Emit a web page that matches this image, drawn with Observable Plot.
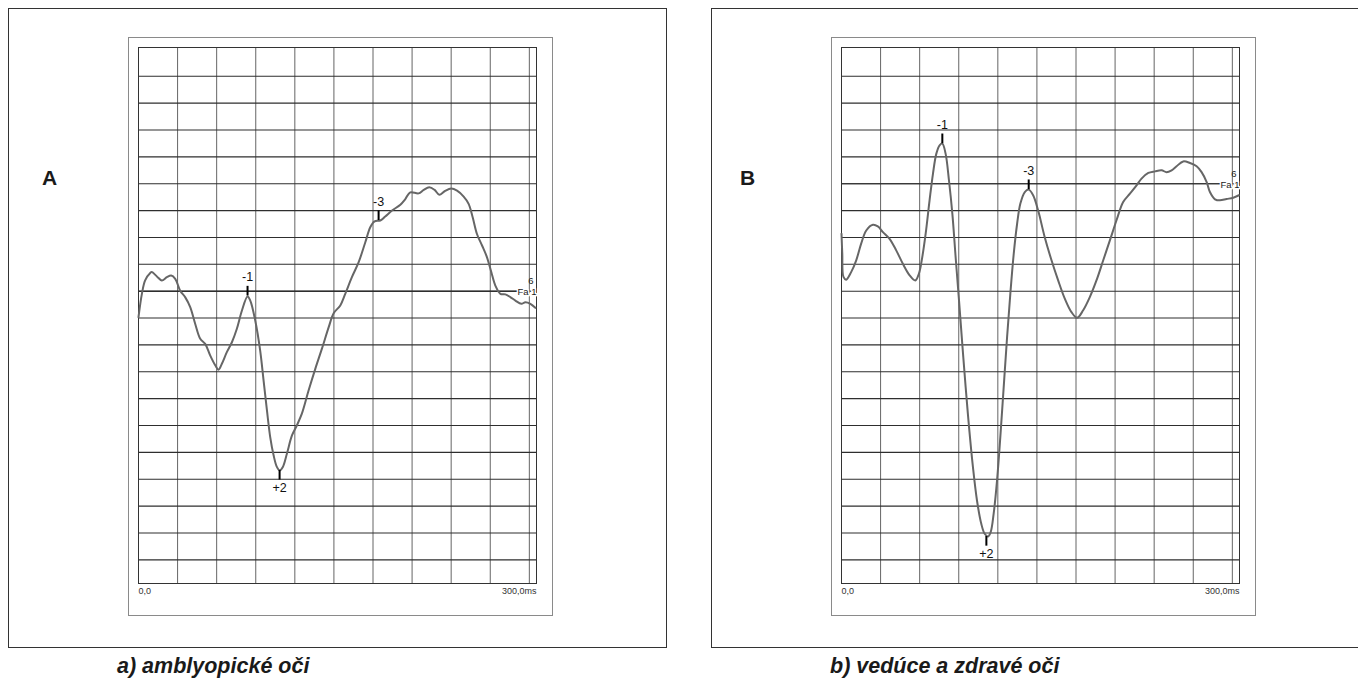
<!DOCTYPE html>
<html><head><meta charset="utf-8">
<script src="https://cdn.jsdelivr.net/npm/d3@7"></script>
<script src="https://cdn.jsdelivr.net/npm/@observablehq/plot@0.6"></script>
<style>
body{margin:0;background:#fff;width:1358px;height:683px;overflow:hidden;position:relative;font-family:"Liberation Sans",Arial,sans-serif;}
.outer{position:absolute;box-sizing:border-box;border:1.5px solid #333;}
.plot{position:absolute;}
.plot svg{display:block;border:1px solid #8a8a8a;}
.letter{position:absolute;font-weight:bold;font-size:21px;line-height:21px;color:#1a1a1a;}
.caption{position:absolute;font-weight:bold;font-style:italic;font-size:21.5px;line-height:21px;color:#1a1a1a;white-space:nowrap;}
</style></head><body>
<div class="outer" style="left:8px;top:8px;width:659px;height:640px"></div>
<div class="outer" style="left:711px;top:8px;width:720px;height:640px"></div>
<div id="plotA" class="plot" style="left:128px;top:37px"></div>
<div id="plotB" class="plot" style="left:831px;top:37px"></div>
<div class="letter" style="left:42px;top:167px">A</div>
<div class="letter" style="left:740px;top:167px">B</div>
<div class="caption" style="left:117px;top:656px">a) amblyopické oči</div>
<div class="caption" style="left:830px;top:656px">b) vedúce a zdravé oči</div>
<script>
// ---- data ----
const xGridTicks = [0, 30, 60, 90, 120, 150, 180, 210, 240, 270, 300];
const xMax = 305.5;
const xTickLabels = ["0,0", "300,0ms"];
const channelNumber = "6";
const channelName = "Fa 1";
const peakNames = ["-1", "+2", "-3"];

const yTicksA = [-8, -7, -6, -5, -4, -3, -2, -1, 0, 1, 2, 3, 4, 5, 6, 7, 8, 9, 10];
const yDomainA = [-9.07, 10.88];
const timeA = [0, 2.6, 5.1, 9.0, 10.2, 14.1, 17.9, 21.8, 25.1, 28.2, 32.0, 35.8, 39.7, 43.5, 47.4, 51.2, 55.0, 58.9, 61.4, 64.0, 67.8, 71.7, 75.5, 79.4, 83.7, 85.8, 89.6, 93.4, 96.0, 98.6, 101.1, 103.7, 106.2, 108.3, 110.8, 113.9, 117.8, 121.6, 125.4, 130.6, 135.7, 140.8, 146.0, 149.8, 154.9, 158.7, 163.8, 169.0, 174.1, 177.9, 181.2, 185.6, 189.4, 194.6, 201.0, 204.8, 208.6, 215.0, 218.9, 223.2, 227.3, 230.9, 235.0, 240.1, 244.5, 249.6, 253.4, 256.5, 259.8, 263.7, 267.5, 270.8, 273.9, 277.8, 281.6, 285.4, 289.3, 293.9, 297.0, 300.8, 304.6];
const valueA = [0.97, 0.1, -0.4, -0.68, -0.71, -0.55, -0.40, -0.52, -0.58, -0.46, -0.02, 0.22, 0.59, 1.21, 1.77, 1.96, 2.39, 2.76, 2.92, 2.70, 2.27, 1.90, 1.40, 0.72, 0.2, 0.35, 1.09, 2.21, 3.32, 4.44, 5.43, 6.11, 6.54, 6.67, 6.54, 6.05, 5.37, 4.99, 4.56, 3.69, 2.89, 2.14, 1.34, 0.82, 0.53, 0.10, -0.52, -1.08, -1.82, -2.38, -2.60, -2.63, -2.78, -3.0, -3.22, -3.43, -3.68, -3.64, -3.77, -3.87, -3.77, -3.59, -3.72, -3.82, -3.74, -3.52, -3.25, -2.75, -2.13, -1.70, -1.26, -0.71, -0.21, 0.10, 0.12, 0.22, 0.35, 0.47, 0.41, 0.47, 0.62];
const peakTimeA = [83.7, 108.3, 184.3];
const peakValueA = [0.18, 6.67, -2.63];

const yTicksB = [-4, -3, -2, -1, 0, 1, 2, 3, 4, 5, 6, 7, 8, 9, 10, 11, 12, 13, 14];
const yDomainB = [-5.07, 14.88];
const timeB = [0, 0.6, 1.5, 3.6, 7.4, 11.3, 15.1, 19.0, 24.1, 27.9, 31.8, 36.9, 42.0, 47.1, 52.3, 56.6, 59.4, 62.0, 64.6, 67.6, 70.2, 72.8, 75.3, 77.4, 79.9, 82.5, 85.1, 87.6, 90.2, 92.7, 95.3, 97.9, 100.9, 104.0, 107.3, 109.9, 112.5, 114.5, 116.8, 119.4, 121.9, 124.5, 127.1, 129.6, 132.2, 134.8, 137.3, 140.7, 143.7, 147.1, 150.9, 156.0, 161.2, 166.3, 171.4, 176.5, 180.9, 185.5, 190.6, 195.7, 200.9, 206.0, 211.1, 216.2, 221.4, 226.5, 230.3, 235.5, 240.6, 245.7, 249.5, 253.4, 257.2, 262.3, 267.5, 272.6, 276.4, 280.3, 282.8, 286.7, 290.5, 295.6, 300.7, 305.0];
const valueB = [1.86, 2.6, 3.47, 3.57, 3.29, 2.85, 2.23, 1.74, 1.53, 1.59, 1.80, 2.05, 2.48, 2.98, 3.41, 3.60, 3.35, 2.73, 1.86, 0.62, -0.37, -1.12, -1.43, -1.49, -1.12, -0.12, 1.12, 2.73, 4.34, 5.96, 7.57, 9.06, 10.55, 11.79, 12.66, 13.03, 13.13, 12.97, 12.28, 11.04, 9.43, 7.57, 5.71, 4.09, 2.61, 1.49, 0.74, 0.31, 0.22, 0.43, 0.99, 1.99, 2.85, 3.60, 4.28, 4.78, 4.99, 4.71, 4.22, 3.60, 2.85, 2.11, 1.36, 0.68, 0.37, 0.06, -0.19, -0.40, -0.46, -0.50, -0.43, -0.50, -0.65, -0.83, -0.77, -0.65, -0.43, -0.06, 0.31, 0.58, 0.62, 0.57, 0.52, 0.43];
const peakTimeB = [77.4, 111.2, 143.7];
const peakValueB = [-1.49, 13.13, 0.22];

// ---- drawing ----
const TICK = 0.36;
function panel(times, values, yDomain, yTicks, peakT, peakV, baseWidth) {
  const curve = times.map((t, i) => ({t, v: values[i]}));
  const peaks = peakNames.map((name, i) => {
    const dir = name.startsWith("+") ? 1 : -1;
    return {name, t: peakT[i], v: peakV[i], end: peakV[i] + dir * TICK, dir};
  });
  const chan = [{n: channelNumber, name: channelName, v: 0}];
  return Plot.plot({
    width: 423, height: 577,
    marginLeft: 9, marginRight: 16, marginTop: 9, marginBottom: 32,
    x: {domain: [0, xMax], axis: null},
    y: {domain: yDomain, reverse: true, axis: null},
    style: {fontFamily: "Liberation Sans, Arial, sans-serif", background: "white", overflow: "visible"},
    marks: [
      Plot.ruleX(xGridTicks, {stroke: "#656565", strokeWidth: 1}),
      Plot.ruleY(yTicks, {stroke: "#2e2e2e", strokeWidth: 1.1}),
      Plot.ruleY([0], {stroke: "#2e2e2e", strokeWidth: baseWidth}),
      Plot.frame({stroke: "#333"}),
      Plot.line(curve, {x: "t", y: "v", stroke: "#666", strokeWidth: 2, curve: "catmull-rom"}),
      Plot.ruleX(peaks, {x: "t", y1: "v", y2: "end", stroke: "#000", strokeWidth: 2}),
      Plot.text(peaks, {filter: d => d.dir < 0, x: "t", y: "end", text: "name", dy: -9, fontSize: 12.5, fill: "#111"}),
      Plot.text(peaks, {filter: d => d.dir > 0, x: "t", y: "end", text: "name", dy: 8, fontSize: 12.5, fill: "#111"}),
      Plot.text(chan, {y: "v", text: "name", frameAnchor: "right", textAnchor: "end", dy: 1, fontSize: 9.5, fill: "#222", stroke: "white", strokeWidth: 3}),
      Plot.text(chan, {y: "v", text: "n", frameAnchor: "right", textAnchor: "end", dx: -3, dy: -10, fontSize: 9.5, fill: "#222"}),
      Plot.text([xTickLabels[0]], {text: d => d, frameAnchor: "bottom-left", textAnchor: "start", dy: 10, fontSize: 9, fill: "#333"}),
      Plot.text([xTickLabels[1]], {text: d => d, frameAnchor: "bottom-right", textAnchor: "end", dy: 10, fontSize: 9, fill: "#333"})
    ]
  });
}
document.getElementById("plotA").append(panel(timeA, valueA, yDomainA, yTicksA, peakTimeA, peakValueA, 1.6));
document.getElementById("plotB").append(panel(timeB, valueB, yDomainB, yTicksB, peakTimeB, peakValueB, 1.1));
</script>
</body></html>
